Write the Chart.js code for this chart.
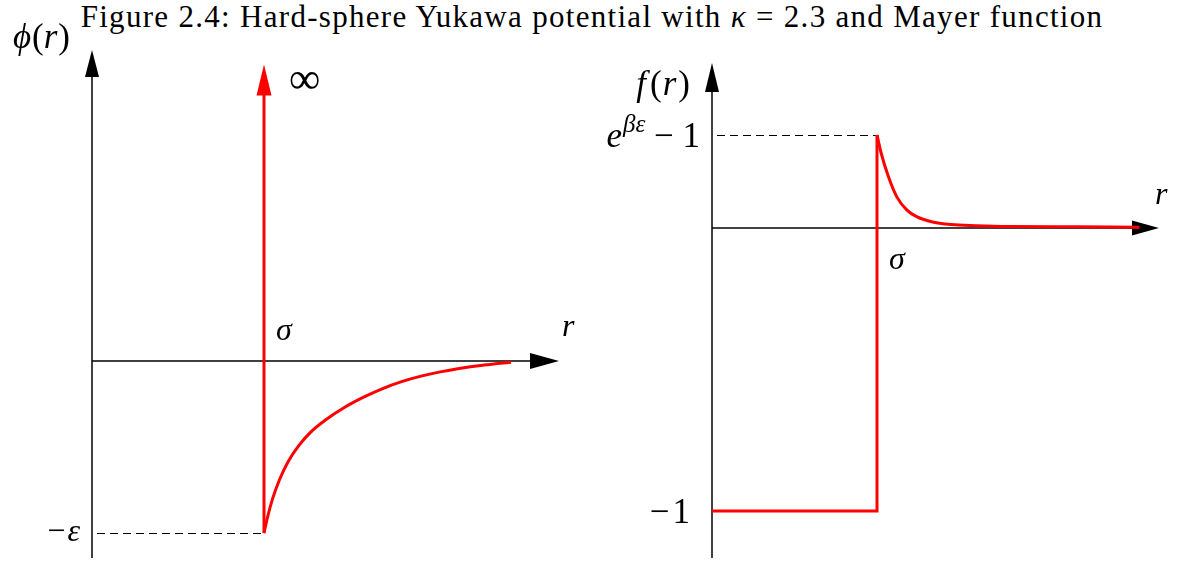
<!DOCTYPE html>
<html>
<head>
<meta charset="utf-8">
<title>Hard-sphere Yukawa potential</title>
<script src="https://cdn.jsdelivr.net/npm/chart.js@4.4.0/dist/chart.umd.min.js"></script>
<style>
  html, body { margin: 0; padding: 0; background: #fff; }
  body { width: 1184px; height: 561px; position: relative; overflow: hidden; }
  #title {
    position: absolute; top: 0; left: 0; width: 1184px; text-align: center;
    font-family: "Liberation Serif", serif; font-size: 31px; line-height: 34px;
    letter-spacing: 1.3px; color: #000;
  }
  .panel { position: absolute; top: 0; width: 592px; height: 561px; }
  #left { left: 0; }
  #right { left: 592px; }
</style>
</head>
<body>
<div id="title">Figure 2.4: Hard-sphere Yukawa potential with <i>κ</i> = 2.3 and Mayer function</div>
<div class="panel" id="left"><canvas id="phi"></canvas></div>
<div class="panel" id="right"><canvas id="mayer"></canvas></div>

<script>
// potential phi(r): r in units of sigma, phi in units of epsilon
const wallR = [1, 1];
const wallPhi = [-1, 1.55];
const yukawaR = [1.0, 1.02, 1.05, 1.09, 1.14, 1.2, 1.27, 1.357, 1.467, 1.579, 1.69, 1.80, 1.913, 2.025, 2.135, 2.246, 2.358, 2.436];
const yukawaPhi = [-1.0, -0.91, -0.80, -0.69, -0.585, -0.495, -0.415, -0.343, -0.27, -0.21, -0.16, -0.12, -0.088, -0.063, -0.043, -0.027, -0.015, -0.007];

// Mayer function f(r) = exp(-beta phi) - 1
const coreR = [0, 1, 1];
const coreF = [-1, -1, 0.329];
const tailR = [1.0, 1.025, 1.07, 1.12, 1.18, 1.24, 1.33, 1.45, 1.6, 1.8, 2.2, 2.59];
const tailF = [0.329, 0.265, 0.18, 0.11, 0.064, 0.04, 0.022, 0.012, 0.008, 0.005, 0.004, 0.003];

const RED = '#ff0000';
const MATH_FONT = '"Liberation Serif", "DejaVu Serif", serif';

const toPoints = (xs, ys) => xs.map((x, i) => ({ x: x, y: ys[i] }));

function redLine(data, smooth) {
    return {
        data: data,
        showLine: true,
        borderColor: RED,
        borderWidth: 3,
        pointRadius: 0,
        fill: false,
        clip: false,
        tension: 0,
        cubicInterpolationMode: smooth ? 'monotone' : 'default'
    };
}

function line(ctx, x1, y1, x2, y2) {
    ctx.beginPath();
    ctx.moveTo(x1, y1);
    ctx.lineTo(x2, y2);
    ctx.stroke();
}

// filled triangular head, tip at (x, y)
function arrow(ctx, x, y, dir, len, half, color) {
    ctx.save();
    ctx.fillStyle = color;
    ctx.beginPath();
    if (dir === 'up') {
        ctx.moveTo(x, y);
        ctx.lineTo(x - half, y + len);
        ctx.lineTo(x + half, y + len);
    } else {
        ctx.moveTo(x, y);
        ctx.lineTo(x - len, y - half);
        ctx.lineTo(x - len, y + half);
    }
    ctx.closePath();
    ctx.fill();
    ctx.restore();
}

// parts: [text, 'i' italic | 'r' roman | 's' italic superscript]
function mathText(ctx, parts, x, y, align, size) {
    const fontOf = p => (p[1] === 'r' ? '' : 'italic ') + (p[1] === 's' ? Math.round(size * 0.7) : size) + 'px ' + MATH_FONT;
    let total = 0;
    const widths = parts.map(p => {
        ctx.font = fontOf(p);
        const w = ctx.measureText(p[0]).width + (p[2] || 0);
        total += w;
        return w;
    });
    let cx = align === 'right' ? x - total : x;
    ctx.save();
    ctx.fillStyle = '#000';
    ctx.textAlign = 'left';
    ctx.textBaseline = 'alphabetic';
    parts.forEach((p, i) => {
        ctx.font = fontOf(p);
        ctx.fillText(p[0], cx, p[1] === 's' ? y - size * 0.42 : y);
        cx += widths[i];
    });
    ctx.restore();
}

function drawAxes(chart, hArrow, vArrow) {
    const { ctx, chartArea: a, scales: { x, y } } = chart;
    const x0 = x.getPixelForValue(0);
    const y0 = y.getPixelForValue(0);
    ctx.save();
    ctx.strokeStyle = '#000';
    ctx.lineWidth = 1.5;
    line(ctx, x0, a.bottom, x0, a.top + vArrow[0] - 2);
    line(ctx, a.left, y0, a.right - hArrow[0] + 2, y0);
    arrow(ctx, x0, a.top, 'up', vArrow[0], vArrow[1], '#000');
    arrow(ctx, a.right, y0, 'right', hArrow[0], hArrow[1], '#000');
    ctx.restore();
}

function dashed(chart, fromX, value, toValueX) {
    const { ctx, scales: { x, y } } = chart;
    const py = Math.round(y.getPixelForValue(value)) + 0.5;
    ctx.save();
    ctx.strokeStyle = '#000';
    ctx.lineWidth = 1.2;
    ctx.setLineDash([8, 5]);
    line(ctx, fromX, py, x.getPixelForValue(toValueX), py);
    ctx.restore();
}

const phiFigure = {
    id: 'phiFigure',
    beforeDatasetsDraw(chart) {
        drawAxes(chart, [29, 8], [27, 7]);
        dashed(chart, chart.scales.x.getPixelForValue(0) + 5, -1, 1);
    },
    afterDatasetsDraw(chart) {
        const { ctx, chartArea: a, scales: { x, y } } = chart;
        const x0 = x.getPixelForValue(0), y0 = y.getPixelForValue(0);
        const xs = x.getPixelForValue(1);
        const wallTop = y.getPixelForValue(wallPhi[1]);
        arrow(ctx, xs, wallTop - 30, 'up', 31, 7.5, RED);
        mathText(ctx, [['ϕ', 'i', 1], ['(', 'r'], ['r', 'i', 1], [')', 'r']], x0 - 22, a.top - 2, 'right', 35);
        mathText(ctx, [['∞', 'r']], xs + 25, wallTop - 1, 'left', 44);
        mathText(ctx, [['σ', 'i']], xs + 12, y0 - 21, 'left', 32);
        mathText(ctx, [['r', 'i']], a.right + 3, y0 - 25, 'left', 32);
        mathText(ctx, [['−', 'r', 2], ['ε', 'i']], x0 - 12, y.getPixelForValue(-1) + 8, 'right', 32);
    }
};

const mayerFigure = {
    id: 'mayerFigure',
    beforeDatasetsDraw(chart) {
        drawAxes(chart, [27, 7.5], [29, 7]);
        dashed(chart, chart.scales.x.getPixelForValue(0) + 5, coreF[2], 1);
    },
    afterDatasetsDraw(chart) {
        const { ctx, chartArea: a, scales: { x, y } } = chart;
        const x0 = x.getPixelForValue(0), y0 = y.getPixelForValue(0);
        const xs = x.getPixelForValue(1);
        mathText(ctx, [['f', 'i', 4], ['(', 'r', 1], ['r', 'i', 2], [')', 'r']], x0 - 22, a.top + 32, 'right', 35);
        mathText(ctx, [['e', 'i', 1], ['βε', 's'], [' − 1', 'r']], x0 - 12, y.getPixelForValue(coreF[2]) + 12, 'right', 35);
        mathText(ctx, [['−', 'r', 3], ['1', 'r']], x0 - 22, y.getPixelForValue(-1) + 12, 'right', 35);
        mathText(ctx, [['σ', 'i']], xs + 12, y0 + 41, 'left', 32);
        mathText(ctx, [['r', 'i']], a.right - 4, y0 - 24, 'left', 32);
    }
};

function baseOptions(padding, xMax, yMin, yMax) {
    return {
        responsive: true,
        maintainAspectRatio: false,
        animation: false,
        layout: { padding: padding },
        plugins: { legend: { display: false }, tooltip: { enabled: false } },
        scales: {
            x: { type: 'linear', display: false, min: 0, max: xMax },
            y: { type: 'linear', display: false, min: yMin, max: yMax }
        }
    };
}

new Chart(document.getElementById('phi').getContext('2d'), {
    type: 'scatter',
    data: {
        datasets: [
            redLine(toPoints(wallR, wallPhi), false),
            redLine(toPoints(yukawaR, yukawaPhi), true)
        ]
    },
    options: baseOptions({ left: 92, right: 33, top: 50, bottom: 3 }, 2.715, -1.145, 1.808),
    plugins: [phiFigure]
});

new Chart(document.getElementById('mayer').getContext('2d'), {
    type: 'scatter',
    data: {
        datasets: [
            redLine(toPoints(coreR, coreF), false),
            redLine(toPoints(tailR, tailF), true)
        ]
    },
    options: baseOptions({ left: 120, right: 25, top: 63, bottom: 3 }, 2.709, -1.166, 0.583),
    plugins: [mayerFigure]
});
</script>
</body>
</html>
